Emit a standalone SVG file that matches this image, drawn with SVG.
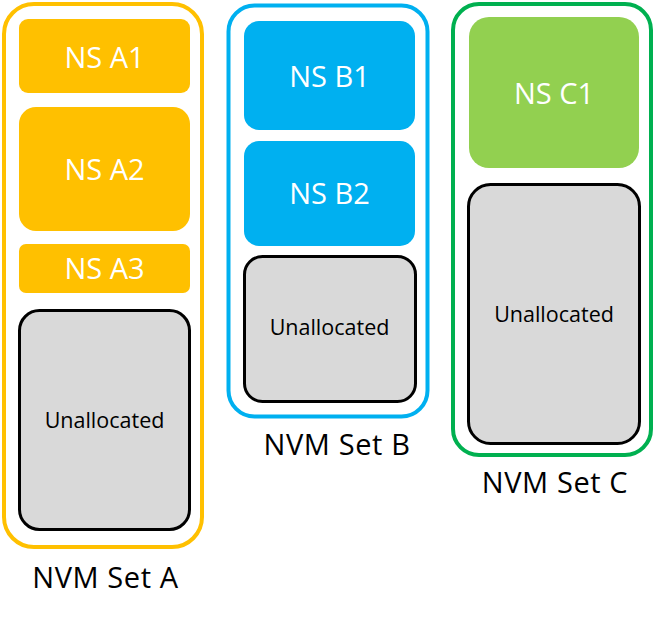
<svg xmlns="http://www.w3.org/2000/svg" width="655" height="618" viewBox="0 0 655 618">
<style>
.set{fill:#FFFFFF;stroke-width:4}
.ns{stroke:none}
.un{fill:#D9D9D9;stroke:#000000;stroke-width:3}
.lw{font-family:"Open Sans","Noto Sans",sans-serif;font-size:29px;fill:#FFFFFF;text-anchor:middle}
.lu{font-family:"Open Sans","Noto Sans",sans-serif;font-size:21.5px;fill:#000000;text-anchor:middle}
.ls{font-family:"Open Sans","Noto Sans",sans-serif;font-size:29px;letter-spacing:0.6px;fill:#000000;text-anchor:middle}
</style>
<rect width="655" height="618" fill="#FFFFFF"/>
<g id="setA">
<rect class="set" x="4" y="4" width="198" height="543" rx="30" stroke="#FFC000"/>
<text class="ls" x="105.5" y="588">NVM Set A</text>
</g>
<g id="nsA1"><rect class="ns" x="19" y="19" width="171" height="74" rx="9" fill="#FFC000"/><text class="lw" x="104.5" y="68">NS A1</text></g>
<g id="nsA2"><rect class="ns" x="19" y="107" width="171" height="124" rx="17" fill="#FFC000"/><text class="lw" x="104.5" y="180">NS A2</text></g>
<g id="nsA3"><rect class="ns" x="19" y="244" width="171" height="49" rx="7" fill="#FFC000"/><text class="lw" x="104.5" y="279">NS A3</text></g>
<g id="unA"><rect class="un" x="19.5" y="310.5" width="170" height="219" rx="20"/><text class="lu" x="104.5" y="428">Unallocated</text></g>
<g id="setB">
<rect class="set" x="228.5" y="5.5" width="199" height="411" rx="26" stroke="#00B0F0"/>
<text class="ls" x="337" y="455">NVM Set B</text>
</g>
<g id="nsB1"><rect class="ns" x="244" y="21" width="171" height="109" rx="15" fill="#00B0F0"/><text class="lw" x="329.5" y="87">NS B1</text></g>
<g id="nsB2"><rect class="ns" x="244" y="141" width="171" height="105" rx="15" fill="#00B0F0"/><text class="lw" x="329.5" y="204">NS B2</text></g>
<g id="unB"><rect class="un" x="244.5" y="256.5" width="171" height="145" rx="18"/><text class="lu" x="329.5" y="335">Unallocated</text></g>
<g id="setC">
<rect class="set" x="453" y="4" width="198" height="451" rx="26" stroke="#00B050"/>
<text class="ls" x="555" y="493">NVM Set C</text>
</g>
<g id="nsC1"><rect class="ns" x="469" y="17" width="170" height="151" rx="20" fill="#92D050"/><text class="lw" x="554" y="104">NS C1</text></g>
<g id="unC"><rect class="un" x="468.5" y="184.5" width="171" height="259" rx="22"/><text class="lu" x="554" y="322">Unallocated</text></g>
<g id="connectors"/>
</svg>
